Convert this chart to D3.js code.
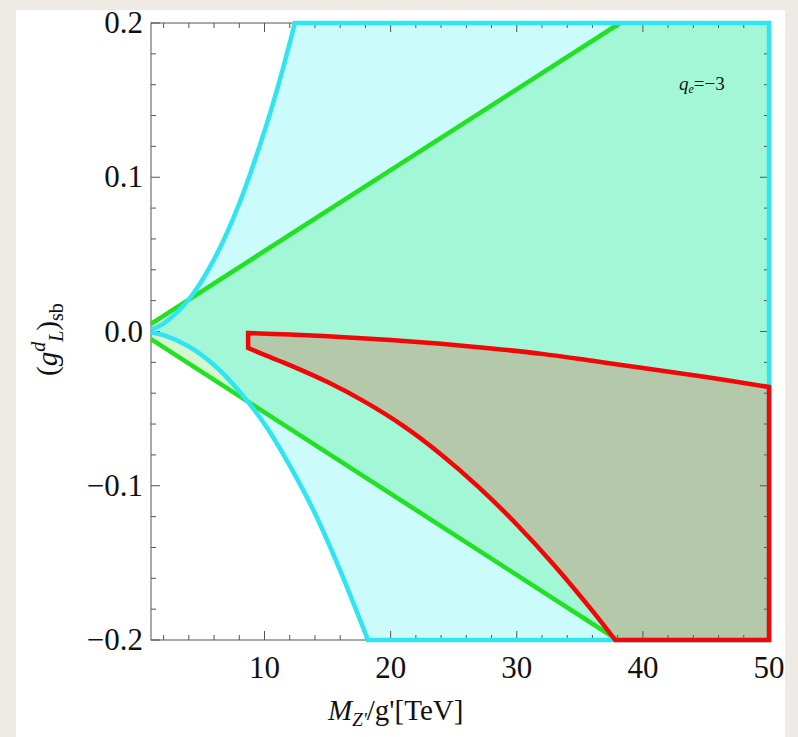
<!DOCTYPE html>
<html>
<head>
<meta charset="utf-8">
<script src="https://cdn.jsdelivr.net/npm/d3@7"></script>
<style>
  body { margin: 0; background: #eeebe5; }
  svg { display: block; }
  text { font-family: "Liberation Serif", "DejaVu Serif", serif; fill: #111; }
</style>
</head>
<body>
<div id="plot"></div>
<script>
// values (x in TeV, y = coupling)
const cyanUpperX = [1, 2, 4, 6, 8, 10, 11, 12, 12.4];
const cyanUpperY = [0.0013, 0.0052, 0.0208, 0.0468, 0.083, 0.13, 0.157, 0.187, 0.2];
const cyanLowerX = [1, 2, 4, 6, 8, 10, 12, 14, 16, 18.2];
const cyanLowerY = [-0.0006, -0.0024, -0.0097, -0.0217, -0.0387, -0.060, -0.087, -0.118, -0.155, -0.2];

const greenUpperX = [1, 38.2];
const greenUpperY = [0.005, 0.2];
const greenLowerX = [1, 38];
const greenLowerY = [-0.005, -0.2];

const redUpperX = [8.7, 12, 16, 20, 24, 28, 32, 36, 40, 45, 50];
const redUpperY = [-0.001, -0.002, -0.0035, -0.0055, -0.008, -0.011, -0.0145, -0.019, -0.0237, -0.0295, -0.036];
const redLowerX = [8.7, 10, 12, 15, 18, 21, 24, 27, 30, 33, 36, 37.8];
const redLowerY = [-0.0107, -0.0152, -0.0218, -0.0328, -0.0458, -0.0612, -0.0797, -0.101, -0.1251, -0.1518, -0.1811, -0.2];

const xTicks = [10, 20, 30, 40, 50];
const yTicks = [-0.2, -0.1, 0.0, 0.1, 0.2];
const yTickLabels = ["\u22120.2", "\u22120.1", "0.0", "0.1", "0.2"];

const width = 798, height = 737;
const xMin = 1, xMax = 50, yMin = -0.2, yMax = 0.2;

const x = d3.scaleLinear().domain([xMin, xMax]).range([151, 769]);
const y = d3.scaleLinear().domain([yMin, yMax]).range([640, 23]);

const zip = (xs, ys) => xs.map((v, i) => [v, ys[i]]);
const line = d3.line().x(d => x(d[0])).y(d => y(d[1]));
const smooth = d3.line().x(d => x(d[0])).y(d => y(d[1])).curve(d3.curveCatmullRom);
// join path pieces into one continuous path
const cont = s => "L" + s.slice(1);

const svg = d3.select("#plot").append("svg")
  .attr("width", width).attr("height", height);

// white panel
svg.append("rect").attr("x", 16).attr("y", 10)
  .attr("width", 769).attr("height", 740).attr("fill", "#fff");

// region outlines
const cyanUp = zip(cyanUpperX, cyanUpperY);
const cyanLo = zip(cyanLowerX, cyanLowerY).reverse();
const cyanPath = smooth(cyanUp) + cont(line([[12.4, yMax], [xMax, yMax], [xMax, yMin], [18.2, yMin]])) + cont(smooth(cyanLo));

const greenPath = line(zip(greenUpperX, greenUpperY).concat([[xMax, yMax], [xMax, yMin]])
  .concat(zip(greenLowerX, greenLowerY).reverse()));

const redUp = zip(redUpperX, redUpperY);
const redLo = zip(redLowerX, redLowerY).reverse();
const redPath = smooth(redUp) + cont(line([[xMax, yMin], [37.8, yMin]])) + cont(smooth(redLo)) + "Z";

const defs = svg.append("defs");
defs.append("clipPath").attr("id", "cyanClip")
  .append("path").attr("d", cyanPath + "Z");

// fills
svg.append("path").attr("d", greenPath + "Z").attr("fill", "#d3f7ce");
svg.append("path").attr("d", cyanPath + "Z").attr("fill", "#cbfbfb");
svg.append("path").attr("d", greenPath + "Z").attr("fill", "#a2f7d6")
  .attr("clip-path", "url(#cyanClip)");
svg.append("path").attr("d", redPath).attr("fill", "#b3c9a9");

// frame and ticks
const frame = svg.append("g").attr("stroke", "#555").attr("stroke-width", 1);
frame.append("rect")
  .attr("x", x(xMin)).attr("y", y(yMax))
  .attr("width", x(xMax) - x(xMin)).attr("height", y(yMin) - y(yMax))
  .attr("fill", "none");

const xMinor = d3.range(2, 50, 2).filter(v => v % 10 !== 0);
const yMinor = d3.range(-0.18, 0.19, 0.02).filter(v => Math.abs(Math.round(v * 100) % 10) !== 0);

function xTick(v, len) {
  frame.append("line").attr("x1", x(v)).attr("x2", x(v)).attr("y1", y(yMin)).attr("y2", y(yMin) - len);
  frame.append("line").attr("x1", x(v)).attr("x2", x(v)).attr("y1", y(yMax)).attr("y2", y(yMax) + len);
}
function yTick(v, len) {
  frame.append("line").attr("y1", y(v)).attr("y2", y(v)).attr("x1", x(xMin)).attr("x2", x(xMin) + len);
  frame.append("line").attr("y1", y(v)).attr("y2", y(v)).attr("x1", x(xMax)).attr("x2", x(xMax) - len);
}
xMinor.forEach(v => xTick(v, 5));
xTicks.forEach(v => xTick(v, 9));
yMinor.forEach(v => yTick(v, 5));
yTicks.forEach(v => yTick(v, 9));

// boundary lines
svg.append("path").attr("d", line(zip(greenUpperX, greenUpperY))).attr("fill", "none")
  .attr("stroke", "#22e022").attr("stroke-width", 4.5);
svg.append("path").attr("d", line(zip(greenLowerX, greenLowerY))).attr("fill", "none")
  .attr("stroke", "#22e022").attr("stroke-width", 4.5);
svg.append("path").attr("d", cyanPath).attr("fill", "none")
  .attr("stroke", "#30e4f0").attr("stroke-width", 4.5);
svg.append("path").attr("d", redPath).attr("fill", "none")
  .attr("stroke", "#f00808").attr("stroke-width", 4.5).attr("stroke-linejoin", "miter");

// tick labels
svg.append("g").selectAll("text").data(xTicks).enter().append("text")
  .attr("x", d => x(d)).attr("y", 678)
  .attr("text-anchor", "middle").style("font-size", "31px")
  .text(d => d);
svg.append("g").selectAll("text").data(yTicks).enter().append("text")
  .attr("x", 143).attr("y", d => y(d) + 10)
  .attr("text-anchor", "end").style("font-size", "31px")
  .text((d, i) => yTickLabels[i]);

// axis titles
const xt = svg.append("text").attr("x", 328).attr("y", 720).style("font-size", "29px");
xt.append("tspan").style("font-style", "italic").text("M");
xt.append("tspan").style("font-style", "italic").style("font-size", "19px").attr("dy", 6).text("Z'");
xt.append("tspan").attr("dy", -6).text("/g'[TeV]");

const yt = svg.append("text").attr("transform", "translate(57,376) rotate(-90)").style("font-size", "29px");
yt.append("tspan").text("(");
yt.append("tspan").style("font-style", "italic").text("g");
yt.append("tspan").style("font-style", "italic").style("font-size", "20px").attr("dy", -12).text("d");
yt.append("tspan").style("font-style", "italic").style("font-size", "20px").attr("dy", 18).text("L");
yt.append("tspan").attr("dy", -6).text(")");
yt.append("tspan").style("font-size", "20px").attr("dy", 6).text("sb");

// annotation
const qt = svg.append("text").attr("x", 679).attr("y", 90).style("font-size", "19px");
qt.append("tspan").style("font-style", "italic").text("q");
qt.append("tspan").style("font-style", "italic").style("font-size", "12px").attr("dy", 3).text("e");
qt.append("tspan").attr("dy", -3).text("=\u22123");
</script>
</body>
</html>
